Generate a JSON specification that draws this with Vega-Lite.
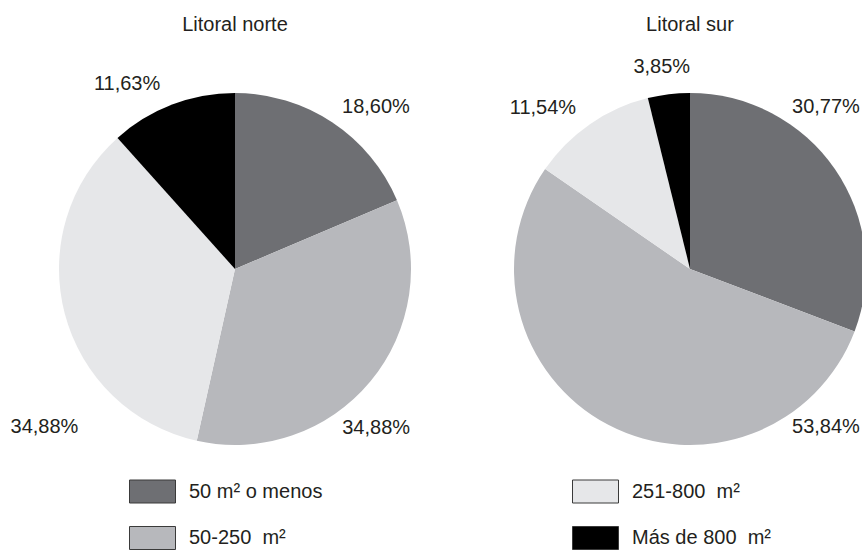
{
  "$schema": "https://vega.github.io/schema/vega-lite/v6.json",
  "padding": {"left": 10, "top": 15, "right": -4, "bottom": 0},
  "config": {
    "view": {"stroke": null},
    "font": "Liberation Sans",
    "locale": {"number": {"decimal": ",", "thousands": ".", "grouping": [3], "currency": ["", " €"]}}
  },
  "data": {
    "values": [
      {"region": "Litoral norte", "cat": "50 m² o menos", "ord": 1, "value": 0.1860},
      {"region": "Litoral norte", "cat": "50-250\u00a0 m²", "ord": 2, "value": 0.3488},
      {"region": "Litoral norte", "cat": "251-800\u00a0 m²", "ord": 3, "value": 0.3488},
      {"region": "Litoral norte", "cat": "Más de 800\u00a0 m²", "ord": 4, "value": 0.1163},
      {"region": "Litoral sur", "cat": "50 m² o menos", "ord": 1, "value": 0.3077},
      {"region": "Litoral sur", "cat": "50-250\u00a0 m²", "ord": 2, "value": 0.5384},
      {"region": "Litoral sur", "cat": "251-800\u00a0 m²", "ord": 3, "value": 0.1154},
      {"region": "Litoral sur", "cat": "Más de 800\u00a0 m²", "ord": 4, "value": 0.0385}
    ]
  },
  "facet": {
    "column": {
      "field": "region",
      "type": "nominal",
      "sort": ["Litoral norte", "Litoral sur"],
      "header": {
        "title": null,
        "labelFontSize": 20,
        "labelFont": "Liberation Sans",
        "labelColor": "#231f20",
        "labelPadding": 58
      }
    }
  },
  "spacing": 103,
  "bounds": "flush",
  "spec": {
    "width": 352,
    "height": 352,
    "layer": [
      {
        "mark": {"type": "arc", "outerRadius": 176},
        "encoding": {
          "theta": {"field": "value", "type": "quantitative", "stack": true},
          "order": {"field": "ord", "type": "quantitative"},
          "color": {
            "field": "cat",
            "type": "nominal",
            "scale": {
              "domain": ["50 m² o menos", "50-250\u00a0 m²", "251-800\u00a0 m²", "Más de 800\u00a0 m²"],
              "range": ["#6e6f73", "#b7b8bc", "#e6e7e9", "#000000"]
            },
            "legend": {
              "orient": "none",
              "legendX": 70,
              "legendY": 375,
              "title": null,
              "columns": 2,
              "columnPadding": 247,
              "rowPadding": 9.5,
              "symbolType": "M-1,-0.5H1V0.5H-1Z",
              "symbolSize": 2116,
              "symbolStrokeColor": "#3a3a3a",
              "symbolStrokeWidth": 1,
              "labelFontSize": 20,
              "labelFont": "Liberation Sans",
              "labelColor": "#231f20",
              "labelOffset": 13,
              "labelLimit": 400,
              "encode": {"symbols": {"update": {"stroke": {"value": "#3a3a3a"}, "strokeWidth": {"value": 1}}}}
            }
          }
        }
      },
      {
        "mark": {
          "type": "text",
          "radius": 220,
          "fontSize": 20,
          "font": "Liberation Sans",
          "color": "#231f20",
          "align": "center",
          "baseline": "middle",
          "dx": {"expr": "datum.region == 'Litoral norte' ? (datum.ord == 1 ? 19.6 : datum.ord == 2 ? -28 : datum.ord == 3 ? 22.3 : -29.3) : (datum.ord == 1 ? -45.1 : datum.ord == 2 ? 238.2 : datum.ord == 3 ? -22 : -1.7)"},
          "dy": {"expr": "datum.region == 'Litoral norte' ? (datum.ord == 1 ? 21.5 : datum.ord == 2 ? 18.3 : datum.ord == 3 ? 102.8 : 20) : (datum.ord == 1 ? -37.5 : datum.ord == 2 ? -36.8 : datum.ord == 3 ? 20.5 : 15.9)"}
        },
        "encoding": {
          "theta": {"field": "value", "type": "quantitative", "stack": true},
          "order": {"field": "ord", "type": "quantitative"},
          "detail": {"field": "cat", "type": "nominal"},
          "text": {"field": "value", "type": "quantitative", "format": ".2%"}
        }
      }
    ]
  }
}
